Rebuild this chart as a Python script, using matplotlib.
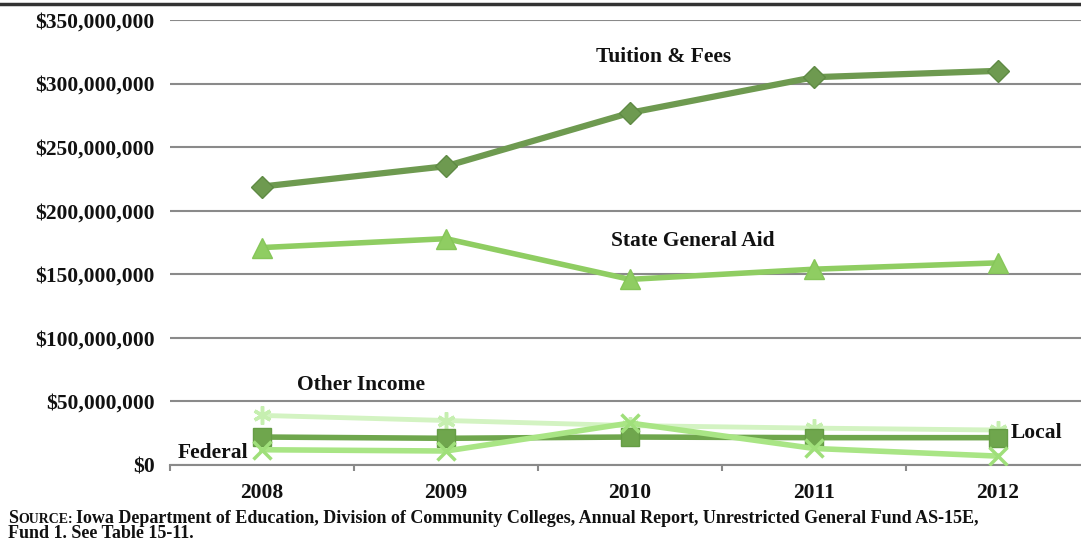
import matplotlib
matplotlib.use("Agg")
import matplotlib.pyplot as plt
from matplotlib.lines import Line2D
from matplotlib.ticker import FuncFormatter, FixedLocator

years = ["2008", "2009", "2010", "2011", "2012"]

# revenue by source, dollars
tuition_fees = [219e6, 235e6, 277e6, 305e6, 310e6]
state_aid    = [171e6, 178e6, 146e6, 154e6, 159e6]
local        = [22e6, 21e6, 22e6, 21.5e6, 21.5e6]
federal      = [12e6, 11e6, 33e6, 13e6, 7e6]
other_income = [39e6, 35e6, 31e6, 29e6, 27.5e6]

y_ticks = [0, 50e6, 100e6, 150e6, 200e6, 250e6, 300e6, 350e6]

plt.rcParams["font.family"] = ["Liberation Serif", "DejaVu Serif"]

fig = plt.figure(figsize=(10.81, 5.42), dpi=100)
W, H = 1081, 542
ax = fig.add_axes([170 / W, 1 - 465 / H, 920 / W, 445 / H])

x = list(range(len(years)))

# drawn back to front like the original
ax.plot(x, other_income, color="#d3f3c2", lw=3.5, marker=(6, 2, 0), ms=13,
        mew=2.5, mec="#c6efb0", zorder=3)
ax.plot(x, local, color="#6fa64d", lw=4, marker="s", ms=13,
        mec="#659c45", zorder=4)
ax.plot(x, federal, color="#a9e585", lw=4, marker="x", ms=13,
        mew=2.5, mec="#9fdf7a", zorder=5)
ax.plot(x, state_aid, color="#8fcd62", lw=4, marker="^", ms=15,
        mec="#86c659", zorder=6)
ax.plot(x, tuition_fees, color="#6e9a50", lw=4.5, marker="D", ms=11,
        mec="#5f8a44", zorder=7)

ax.set_xlim(-0.5, len(years) - 0.5)
ax.set_ylim(0, 350e6)
ax.yaxis.set_major_locator(FixedLocator(y_ticks))
ax.yaxis.set_major_formatter(FuncFormatter(lambda v, p: "$" + format(int(v), ",")))
ax.set_xticks(x)
ax.set_xticklabels(years)
ax.set_xticks([i - 0.5 for i in range(len(years) + 1)], minor=True)

ax.grid(axis="y", color="#8a8a8a", lw=1.5)
ax.set_axisbelow(True)
for s in ["left", "right", "top"]:
    ax.spines[s].set_visible(False)
ax.spines["bottom"].set_color("#8a8a8a")
ax.spines["bottom"].set_linewidth(1.5)

ax.tick_params(axis="y", length=0, pad=11, labelsize=15.5, labelcolor="#111111")
ax.tick_params(axis="x", which="major", length=0, pad=13, labelsize=15.5,
               labelcolor="#111111")
ax.tick_params(axis="x", which="minor", length=4, width=1.5, color="#8a8a8a")
for lbl in ax.get_yticklabels() + ax.get_xticklabels():
    lbl.set_fontweight("bold")

# series labels
lab = dict(fontsize=15.5, color="#111111", fontweight="bold")
ax.text(2.18, 321e6, "Tuition & Fees", ha="center", va="center", **lab)
ax.text(2.34, 176e6, "State General Aid", ha="center", va="center", **lab)
ax.text(0.54, 63e6, "Other Income", ha="center", va="center", **lab)
ax.text(-0.46, 9.5e6, "Federal", ha="left", va="center", **lab)
ax.text(4.07, 25e6, "Local", ha="left", va="center", **lab)

# thick rule at the top of the page
fig.add_artist(Line2D([0, 1], [1 - 4 / H, 1 - 4 / H], color="#333333", lw=2.5))

# source note
src = dict(fontsize=13, color="#111111", fontweight="bold", va="baseline")
fig.text(8 / W, 1 - 523 / H, "S", **src)
fig.text(18 / W, 1 - 523 / H, "OURCE:", fontsize=10, color="#111111",
         fontweight="bold", va="baseline")
fig.text(76 / W, 1 - 523 / H,
         "Iowa Department of Education, Division of Community Colleges, "
         "Annual Report, Unrestricted General Fund AS-15E,", **src)
fig.text(8 / W, 1 - 538 / H, "Fund 1. See Table 15-11.", **src)

fig.savefig("out.png", dpi=100)
